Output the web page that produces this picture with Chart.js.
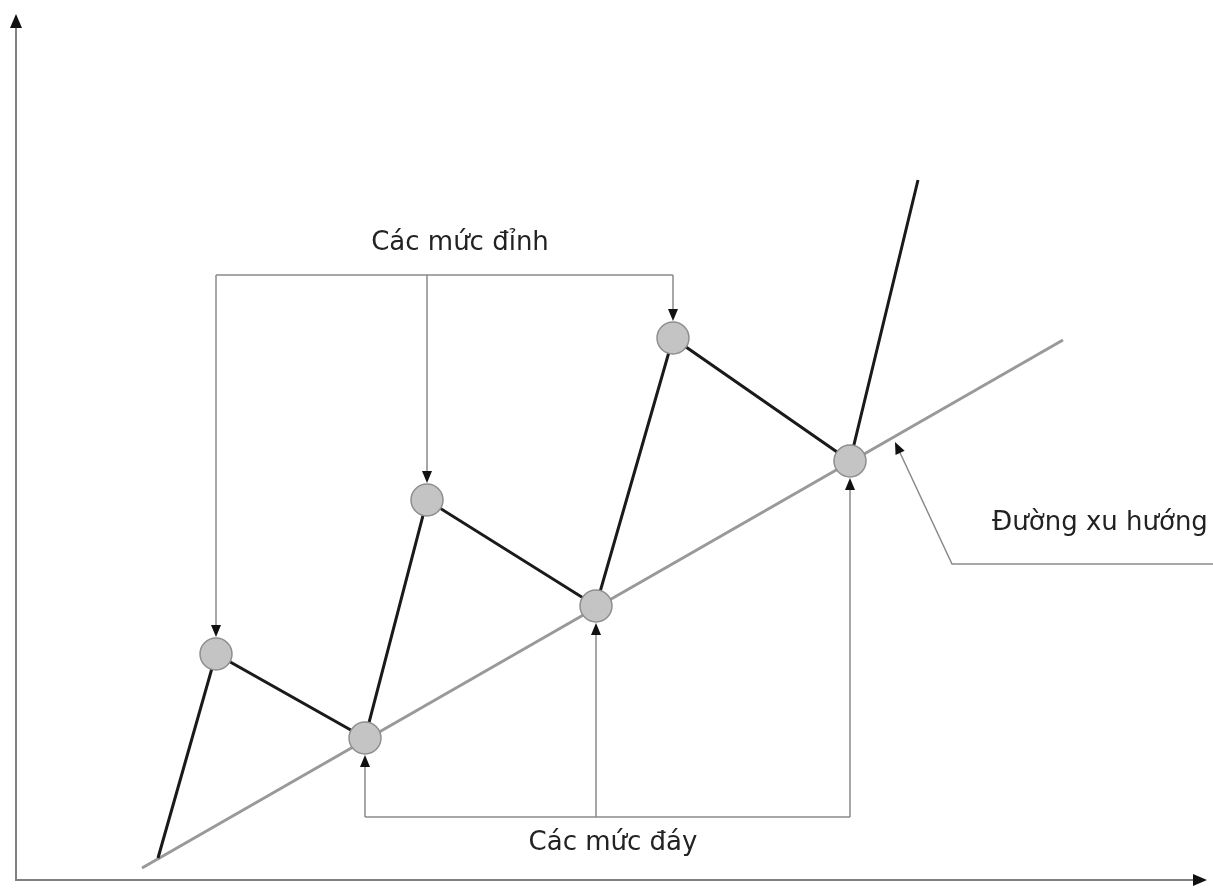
<!DOCTYPE html>
<html>
<head>
<meta charset="utf-8">
<script src="https://cdn.jsdelivr.net/npm/chart.js@4.4.1/dist/chart.umd.min.js"></script>
<style>
  html, body { margin: 0; padding: 0; background: #ffffff; }
  #wrap { width: 1213px; height: 888px; position: relative; }
</style>
</head>
<body>
<div id="wrap"><canvas id="c" width="1213" height="888"></canvas></div>
<script>
// Price path (zigzag): time vs price, origin at the axes corner
const pathX = [142, 200, 349, 411, 580, 657, 834, 902];
const pathY = [22, 226, 142, 380, 274, 542, 419, 700];

// Peaks (Các mức đỉnh) and troughs (Các mức đáy)
const peakX = [200, 411, 657];
const peakY = [226, 380, 542];
const troughX = [349, 580, 834];
const troughY = [142, 274, 419];

// Trend line (Đường xu hướng)
const trendX = [126, 1047];
const trendY = [12, 540];

// Axis extents (arrow tips)
const axisMaxX = 1191;
const axisMaxY = 866;

// Annotation levels
const peakBracketY = 605;
const troughBracketY = 63;
const trendLeaderX = [1197, 936, 879];
const trendLeaderY = [316, 316, 438];

// Labels (text baseline positions)
const labelTexts = ['Các mức đỉnh', 'Các mức đáy', 'Đường xu hướng'];
const labelX = [444, 597, 1084];
const labelY = [630, 30, 350];

const zip = (xs, ys) => xs.map((x, i) => ({ x: x, y: ys[i] }));
const circleX = [];
const circleY = [];
for (let i = 0; i < peakX.length; i++) {
  circleX.push(peakX[i], troughX[i]);
  circleY.push(peakY[i], troughY[i]);
}

const R = 16;

function arrowHead(ctx, x, y, dir, len, half) {
  ctx.save();
  ctx.translate(x, y);
  ctx.rotate(dir);
  ctx.beginPath();
  ctx.moveTo(0, 0);
  ctx.lineTo(-len, -half);
  ctx.lineTo(-len, half);
  ctx.closePath();
  ctx.fillStyle = '#111';
  ctx.fill();
  ctx.restore();
}

const decor = {
  id: 'decor',
  beforeDatasetsDraw(chart) {
    const ctx = chart.ctx;
    const xs = chart.scales.x, ys = chart.scales.y;
    const ox = xs.getPixelForValue(0), oy = ys.getPixelForValue(0);
    const tx = xs.getPixelForValue(axisMaxX), ty = ys.getPixelForValue(axisMaxY);
    ctx.save();
    ctx.strokeStyle = '#808080';
    ctx.lineWidth = 2;
    ctx.beginPath();
    ctx.moveTo(ox, ty + 8);
    ctx.lineTo(ox, oy);
    ctx.lineTo(tx - 8, oy);
    ctx.stroke();
    arrowHead(ctx, ox, ty, -Math.PI / 2, 14, 6);
    arrowHead(ctx, tx, oy, 0, 14, 6);

    // annotation brackets
    ctx.strokeStyle = '#8a8a8a';
    ctx.lineWidth = 1.5;
    const by = ys.getPixelForValue(peakBracketY);
    ctx.beginPath();
    ctx.moveTo(xs.getPixelForValue(peakX[0]), by);
    ctx.lineTo(xs.getPixelForValue(peakX[peakX.length - 1]), by);
    ctx.stroke();
    for (let i = 0; i < peakX.length; i++) {
      const px = xs.getPixelForValue(peakX[i]);
      const py = ys.getPixelForValue(peakY[i]) - R - 1;
      ctx.beginPath();
      ctx.moveTo(px, by);
      ctx.lineTo(px, py - 8);
      ctx.stroke();
      arrowHead(ctx, px, py, Math.PI / 2, 12, 5);
    }
    const bb = ys.getPixelForValue(troughBracketY);
    ctx.beginPath();
    ctx.moveTo(xs.getPixelForValue(troughX[0]), bb);
    ctx.lineTo(xs.getPixelForValue(troughX[troughX.length - 1]), bb);
    ctx.stroke();
    for (let i = 0; i < troughX.length; i++) {
      const px = xs.getPixelForValue(troughX[i]);
      const py = ys.getPixelForValue(troughY[i]) + R + 1;
      ctx.beginPath();
      ctx.moveTo(px, bb);
      ctx.lineTo(px, py + 8);
      ctx.stroke();
      arrowHead(ctx, px, py, -Math.PI / 2, 12, 5);
    }
    // trend leader
    const lp = trendLeaderX.map((x, i) => [xs.getPixelForValue(x), ys.getPixelForValue(trendLeaderY[i])]);
    const last = lp[lp.length - 1], prev = lp[lp.length - 2];
    const ang = Math.atan2(last[1] - prev[1], last[0] - prev[0]);
    ctx.beginPath();
    ctx.moveTo(lp[0][0], lp[0][1]);
    for (let i = 1; i < lp.length - 1; i++) ctx.lineTo(lp[i][0], lp[i][1]);
    ctx.lineTo(last[0] - 8 * Math.cos(ang), last[1] - 8 * Math.sin(ang));
    ctx.stroke();
    arrowHead(ctx, last[0], last[1], ang, 12, 5);
    ctx.restore();
  },
  afterDatasetsDraw(chart) {
    const ctx = chart.ctx;
    const xs = chart.scales.x, ys = chart.scales.y;
    ctx.save();
    ctx.fillStyle = '#222';
    ctx.font = '26px "DejaVu Sans"';
    ctx.textAlign = 'center';
    ctx.textBaseline = 'alphabetic';
    labelTexts.forEach((t, i) => {
      ctx.fillText(t, xs.getPixelForValue(labelX[i]), ys.getPixelForValue(labelY[i]));
    });
    ctx.restore();
  }
};

new Chart(document.getElementById('c'), {
  type: 'scatter',
  data: {
    datasets: [
      {
        label: 'Đỉnh / Đáy',
        data: zip(circleX, circleY),
        showLine: false,
        pointRadius: R,
        pointBackgroundColor: '#c4c4c4',
        pointBorderColor: '#8e8e8e',
        pointBorderWidth: 1.5,
        order: 0
      },
      {
        label: 'Giá',
        data: zip(pathX, pathY),
        showLine: true,
        borderColor: '#1a1a1a',
        borderWidth: 3,
        pointRadius: 0,
        tension: 0,
        order: 1
      },
      {
        label: 'Đường xu hướng',
        data: zip(trendX, trendY),
        showLine: true,
        borderColor: '#999999',
        borderWidth: 3,
        pointRadius: 0,
        order: 2
      }
    ]
  },
  options: {
    responsive: false,
    animation: false,
    devicePixelRatio: 1,
    layout: { padding: 0, autoPadding: false },
    plugins: { legend: { display: false }, tooltip: { enabled: false } },
    scales: {
      x: { type: 'linear', display: false, min: -16, max: 1197 },
      y: { type: 'linear', display: false, min: -8, max: 880 }
    }
  },
  plugins: [decor]
});
</script>
</body>
</html>
